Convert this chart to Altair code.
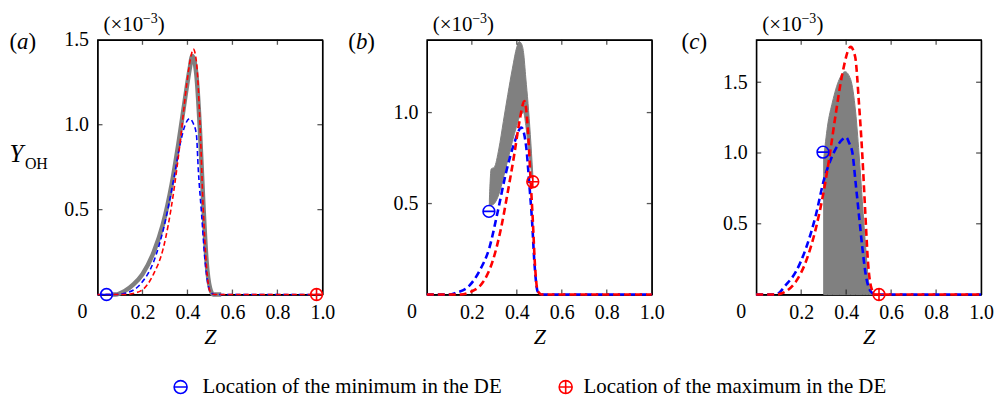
import altair as alt
import pandas as pd

FONT = "Liberation Serif"
GRAY = "#808080"
BLUE = "#0000ff"
RED = "#ff0000"
INK = "#111111"
W, H = 226, 256

# ---------------- data ----------------
# panel (a)
a_gray_z = [0.06, 0.08, 0.12, 0.16, 0.20, 0.25, 0.29, 0.33, 0.36, 0.39, 0.41, 0.421, 0.43, 0.44, 0.455, 0.47, 0.485, 0.50, 0.515, 0.55]
a_gray_y = [0.0, 0.0, 0.02, 0.06, 0.12, 0.25, 0.41, 0.65, 0.89, 1.16, 1.33, 1.405, 1.38, 1.29, 0.98, 0.55, 0.195, 0.04, 0.0, 0.0]
a_blue_z = [0.0, 0.08, 0.13, 0.19, 0.25, 0.294, 0.339, 0.368, 0.39, 0.41, 0.425, 0.44, 0.448, 0.463, 0.478, 0.49, 0.50, 0.52, 1.0]
a_blue_y = [0.0, 0.0, 0.01, 0.06, 0.195, 0.39, 0.68, 0.89, 1.0, 1.035, 1.01, 0.94, 0.74, 0.47, 0.2, 0.07, 0.02, 0.0, 0.0]
a_red_z = [0.0, 0.12, 0.19, 0.249, 0.292, 0.337, 0.366, 0.396, 0.415, 0.426, 0.44, 0.455, 0.47, 0.485, 0.50, 0.52, 1.0]
a_red_y = [0.0, 0.0, 0.02, 0.12, 0.27, 0.59, 0.88, 1.23, 1.40, 1.445, 1.37, 1.03, 0.51, 0.16, 0.02, 0.0, 0.0]
a_min = (0.04, 0.0)
a_max = (0.974, 0.0)

# panel (b)
b_band_z = [0.278, 0.286, 0.30, 0.32, 0.34, 0.36, 0.38, 0.40, 0.41, 0.42, 0.43, 0.44, 0.45, 0.46, 0.471]
b_band_hi = [0.52, 0.69, 0.70, 0.80, 0.95, 1.10, 1.24, 1.36, 1.39, 1.38, 1.33, 1.19, 1.05, 0.88, 0.66]
b_band_lo = [0.49, 0.49, 0.50, 0.55, 0.64, 0.74, 0.84, 0.93, 0.97, 0.99, 1.00, 0.93, 0.82, 0.72, 0.62]
b_blue_z = [0.0, 0.10, 0.13, 0.19, 0.234, 0.278, 0.315, 0.352, 0.39, 0.42, 0.441, 0.456, 0.468, 0.478, 0.493, 0.51, 1.0]
b_blue_y = [0.0, 0.0, 0.01, 0.05, 0.13, 0.257, 0.455, 0.67, 0.837, 0.918, 0.82, 0.6, 0.4, 0.18, 0.016, 0.0, 0.0]
b_red_z = [0.0, 0.15, 0.19, 0.249, 0.293, 0.33, 0.36, 0.39, 0.411, 0.434, 0.449, 0.46, 0.471, 0.481, 0.493, 0.51, 1.0]
b_red_y = [0.0, 0.0, 0.012, 0.067, 0.185, 0.366, 0.565, 0.78, 0.946, 1.063, 0.91, 0.66, 0.41, 0.156, 0.02, 0.0, 0.0]
b_min = (0.276, 0.457)
b_max = (0.471, 0.62)

# panel (c)
c_band_z = [0.300, 0.317, 0.339, 0.369, 0.395, 0.42, 0.442, 0.457, 0.472, 0.487, 0.50, 0.516, 0.525]
c_band_hi = [0.96, 1.19, 1.36, 1.52, 1.575, 1.52, 1.29, 1.0, 0.655, 0.33, 0.09, 0.01, 0.0]
c_band_lo = [0.0] * len(c_band_z)
c_blue_z = [0.0, 0.088, 0.133, 0.177, 0.221, 0.265, 0.302, 0.332, 0.361, 0.383, 0.40, 0.413, 0.428, 0.442, 0.457, 0.472, 0.487, 0.509, 0.53, 1.0]
c_blue_y = [0.0, 0.0, 0.07, 0.163, 0.326, 0.56, 0.816, 0.956, 1.05, 1.096, 1.11, 1.072, 1.0, 0.79, 0.56, 0.33, 0.14, 0.023, 0.0, 0.0]
c_red_z = [0.0, 0.088, 0.133, 0.177, 0.221, 0.265, 0.302, 0.324, 0.354, 0.383, 0.42, 0.44, 0.457, 0.472, 0.484, 0.497, 0.512, 0.53, 1.0]
c_red_y = [0.0, 0.0, 0.023, 0.093, 0.233, 0.466, 0.746, 0.956, 1.28, 1.56, 1.75, 1.68, 1.35, 0.98, 0.61, 0.23, 0.047, 0.0, 0.0]
c_min = (0.297, 1.006)
c_max = (0.546, 0.0)

x_ticks = [0.2, 0.4, 0.6, 0.8, 1.0]
y_ticks = {"a": [0.5, 1.0, 1.5], "b": [0.5, 1.0], "c": [0.5, 1.0, 1.5]}
y_max = {"a": 1.5, "b": 1.4, "c": 1.8}
legend_labels = ["Location of the minimum in the DE", "Location of the maximum in the DE"]

MINUS = "M-1,0A1,1,0,1,1,1,0A1,1,0,1,1,-1,0ZM-1,0L1,0"
PLUS = "M-1,0A1,1,0,1,1,1,0A1,1,0,1,1,-1,0ZM-1,0L1,0M0,-1L0,1"


def one():
    return pd.DataFrame({"k": [0]})


def txt(s, x, y, size, style="normal", align="left", baseline="middle"):
    return (alt.Chart(one())
            .mark_text(font=FONT, fontSize=size, fontStyle=style, align=align, baseline=baseline,
                       color="black")
            .encode(x=alt.value(x), y=alt.value(y), text=alt.value(s)))


def panel(key, gray_line, band, blue, red, mn, mx, dash, sw, lab_x, lab_letter_w):
    xs = alt.Scale(domain=[0, 1], nice=False, zero=False)
    ys = alt.Scale(domain=[0, y_max[key]], nice=False, zero=False)
    # bottom / left axes: labels + frame edges (axis domain lines)
    x_bottom = alt.Axis(orient="bottom", values=x_ticks, format=".1f", ticks=False, grid=False,
                        domain=True, domainColor="black", domainWidth=1.3,
                        labelFlush=False, labelOverlap=False,
                        labelFont=FONT, labelFontSize=20, labelColor="black", labelPadding=8,
                        title="Z", titleFont=FONT, titleFontStyle="italic", titleFontWeight="normal",
                        titleFontSize=22, titleColor="black", titlePadding=4)
    y_left = alt.Axis(orient="left", values=y_ticks[key], format=".1f", ticks=False, grid=False,
                      domain=True, domainColor="black", domainWidth=1.3,
                      labelFlush=False, labelOverlap=False,
                      labelFont=FONT, labelFontSize=20, labelColor="black", labelPadding=9,
                      title=None)
    # top / right axes: only their domain lines, to close the frame
    x_top = alt.Axis(orient="top", labels=False, ticks=False, grid=False, title=None,
                     domain=True, domainColor="black", domainWidth=1.3)
    y_right = alt.Axis(orient="right", labels=False, ticks=False, grid=False, title=None,
                       domain=True, domainColor="black", domainWidth=1.3)

    def X(f, axis=None):
        return alt.X(f, type="quantitative", scale=xs, axis=axis)

    def Y(f, axis=None):
        return alt.Y(f, type="quantitative", scale=ys, axis=axis)

    layers = []
    if band is not None:
        bz, bhi, blo = band
        dfb = pd.DataFrame({"z": bz, "hi": bhi, "lo": blo})
        layers.append(alt.Chart(dfb).mark_area(color=GRAY, opacity=1, interpolate="monotone",
                                               stroke=GRAY, strokeWidth=1)
                      .encode(x=X("z"), y=Y("hi"), y2="lo"))
    if gray_line is not None:
        gz, gy = gray_line
        dfg = pd.DataFrame({"z": gz, "y": gy})
        layers.append(alt.Chart(dfg).mark_line(color=GRAY, strokeWidth=4.5, interpolate="monotone")
                      .encode(x=X("z"), y=Y("y")))
    # inward ticks
    dft = pd.DataFrame({"t": x_ticks[:-1]})
    layers.append(alt.Chart(dft).mark_tick(color=INK, thickness=1.3, size=5, orient="vertical",
                                           yOffset=-2.5)
                  .encode(x=X("t"), y=alt.value(H)))
    layers.append(alt.Chart(dft).mark_tick(color=INK, thickness=1.3, size=5, orient="vertical",
                                           yOffset=2.5)
                  .encode(x=X("t"), y=alt.value(0)))
    dfy = pd.DataFrame({"t": [v for v in y_ticks[key] if v < y_max[key]]})
    layers.append(alt.Chart(dfy).mark_tick(color=INK, thickness=1.3, size=5, orient="horizontal",
                                           xOffset=2.5)
                  .encode(y=Y("t"), x=alt.value(0)))
    layers.append(alt.Chart(dfy).mark_tick(color=INK, thickness=1.3, size=5, orient="horizontal",
                                           xOffset=-2.5)
                  .encode(y=Y("t"), x=alt.value(W)))
    # dashed curves: the blue one carries the bottom/left axes, the red one the top/right axes
    (bzz, byy), (rzz, ryy) = blue, red
    layers.append(alt.Chart(pd.DataFrame({"z": bzz, "y": byy}))
                  .mark_line(color=BLUE, strokeWidth=sw, strokeDash=dash, interpolate="monotone")
                  .encode(x=X("z", x_bottom), y=Y("y", y_left)))
    layers.append(alt.Chart(pd.DataFrame({"z": rzz, "y": ryy}))
                  .mark_line(color=RED, strokeWidth=sw, strokeDash=dash, interpolate="monotone")
                  .encode(x=X("z", x_top), y=Y("y", y_right)))
    for (pz, py), shape, col in ((mn, MINUS, BLUE), (mx, PLUS, RED)):
        df = pd.DataFrame({"z": [pz], "y": [py]})
        layers.append(alt.Chart(df).mark_point(shape=shape, filled=False, color=col, size=140,
                                               strokeWidth=1.6, opacity=1)
                      .encode(x=X("z"), y=Y("y")))
    # origin "0"
    layers.append(txt("0", -15, H + 8, 20, align="center", baseline="top"))
    # (x10^-3)
    layers.append(txt("(×10", 6, -15, 21))
    layers.append(txt("−3", 45.5, -21, 14))
    layers.append(txt(")", 60.5, -15, 21))
    # panel label
    layers.append(txt("(", lab_x, 2, 23))
    layers.append(txt(key, lab_x + 7.7, 2, 23, style="italic"))
    layers.append(txt(")", lab_x + 7.7 + lab_letter_w, 2, 23))
    return layers


la = panel("a", (a_gray_z, a_gray_y), None, (a_blue_z, a_blue_y), (a_red_z, a_red_y), a_min, a_max,
           [5, 3], 1.6, -88.5, 11.5)
# Y_OH label
la.append(txt("Y", -88.5, 123, 25, style="italic", baseline="alphabetic"))
la.append(txt("OH", -73, 130, 16, baseline="alphabetic"))
# legend
for sx, tx, shape, col, lab in ((83.5, 105.5, MINUS, BLUE, legend_labels[0]),
                                (470.5, 488.5, PLUS, RED, legend_labels[1])):
    la.append(alt.Chart(one()).mark_point(shape=shape, filled=False, color=col, size=170,
                                          strokeWidth=1.6, opacity=1)
              .encode(x=alt.value(sx), y=alt.value(349)))
    la.append(txt(lab, tx, 349, 21))

lb = panel("b", None, (b_band_z, b_band_hi, b_band_lo), (b_blue_z, b_blue_y), (b_red_z, b_red_y),
           b_min, b_max, [7, 4], 2.6, -79, 11.5)
lc = panel("c", None, (c_band_z, c_band_hi, c_band_lo), (c_blue_z, c_blue_y), (c_red_z, c_red_y),
           c_min, c_max, [7, 4], 2.6, -75, 10.2)


def build(layers):
    return (alt.layer(*layers).properties(width=W, height=H)
            .resolve_axis(x="independent", y="independent"))


pa, pb, pc = build(la), build(lb), build(lc)

chart = (alt.hconcat(pa, pb, pc, spacing=105, bounds="flush")
         .properties(padding={"left": 8, "top": 10, "right": 5, "bottom": 2}, background="white")
         .configure_view(stroke="black", strokeWidth=1.3))

chart.save("out.html", embed_options={"renderer": "svg", "actions": False})
